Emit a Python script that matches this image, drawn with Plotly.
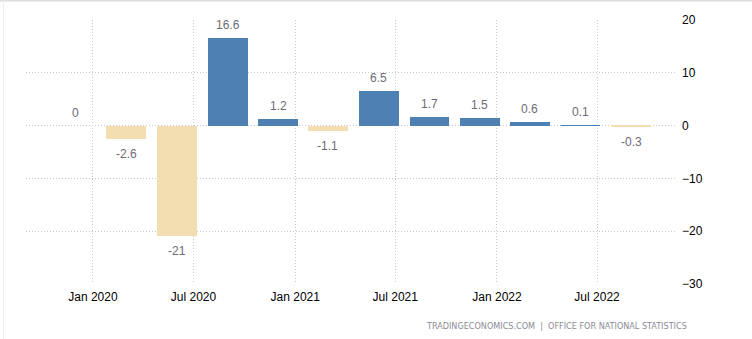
import plotly.graph_objects as go

dates = ["2019-12-01", "2020-03-01", "2020-06-01", "2020-09-01", "2020-12-01",
         "2021-03-01", "2021-06-01", "2021-09-01", "2021-12-01", "2022-03-01",
         "2022-06-01", "2022-09-01"]
values = [0, -2.6, -21, 16.6, 1.2, -1.1, 6.5, 1.7, 1.5, 0.6, 0.1, -0.3]
labels = ["0", "-2.6", "-21", "16.6", "1.2", "-1.1", "6.5", "1.7", "1.5", "0.6", "0.1", "-0.3"]
y_ticks = [20, 10, 0, -10, -20, -30]

BLUE = "#4E80B4"
BEIGE = "#F2DEB0"
colors = [BLUE if v >= 0 else BEIGE for v in values]

L, R, T, B = 26, 77, 20, 55
W, H = 752, 339
pw, ph = W - L - R, H - T - B

fig = go.Figure()
fig.add_trace(go.Bar(
    x=dates, y=values, marker=dict(color=colors, line=dict(width=0)),
    width=72 * 86400000, hoverinfo="x+y",
))

annotations = []
for d, v, t in zip(dates, values, labels):
    annotations.append(dict(
        x=d, y=v, xref="x", yref="y", text=t, showarrow=False,
        yanchor="middle", xanchor="center",
        yshift=13 if v >= 0 else -15,
        font=dict(family="Liberation Sans, Arial, sans-serif", size=12, color="#6B6B75"),
    ))
annotations.append(dict(
    x=(689 - L) / pw, y=1 - (326 - T) / ph, xref="paper", yref="paper",
    text="TRADINGECONOMICS.COM  |  OFFICE FOR NATIONAL STATISTICS",
    showarrow=False, xanchor="right", yanchor="middle",
    font=dict(family="DejaVu Sans Condensed, DejaVu Sans, sans-serif", size=9, color="#8A8A95"),
))

grid = dict(showgrid=True, gridcolor="#C8C8C8", griddash="1px,2px", gridwidth=1,
            zeroline=False, showline=False, ticks="")

fig.update_layout(
    width=W, height=H,
    margin=dict(l=L, r=R, t=T, b=B),
    paper_bgcolor="white", plot_bgcolor="white",
    showlegend=False,
    bargap=0,
    annotations=annotations,
    xaxis=dict(
        type="date",
        range=["2019-09-02", "2022-11-19"],
        tick0="2020-01-01", dtick="M6", tickformat="%b %Y",
        ticklabelstandoff=4,
        tickfont=dict(family="Liberation Sans, Arial, sans-serif", size=12, color="#000000"),
        **grid,
    ),
    yaxis=dict(
        side="right", range=[-30, 20], tickvals=y_ticks,
        ticklabelstandoff=6,
        tickfont=dict(family="Liberation Sans, Arial, sans-serif", size=12, color="#000000"),
        **grid,
    ),
    shapes=[
        dict(type="line", xref="paper", yref="paper",
             x0=(0 - L) / pw, x1=(W - L) / pw, y0=1 + T / ph - 0.5 / ph, y1=1 + T / ph - 0.5 / ph,
             line=dict(color="#DDDDDD", width=2)),
        dict(type="line", xref="paper", yref="paper",
             x0=(3.5 - L) / pw, x1=(3.5 - L) / pw, y0=-B / ph, y1=1 + T / ph,
             line=dict(color="#EEEEEE", width=1)),
    ],
)

fig.write_html("out.html")
